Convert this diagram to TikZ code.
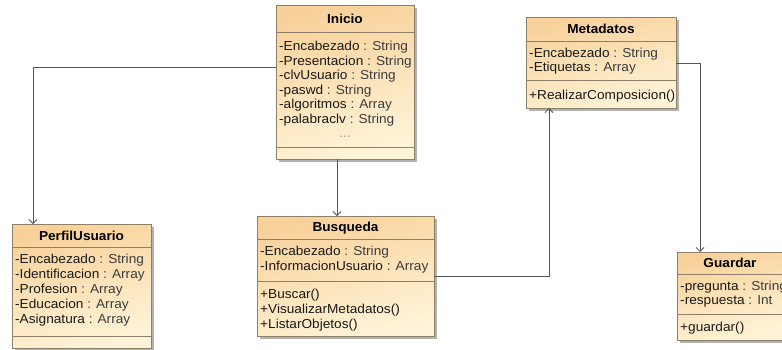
\documentclass[tikz,border=0pt]{standalone}
\usepackage{fontspec}
\setmainfont{Liberation Sans}[FakeStretch=1.05]
\usetikzlibrary{arrows.meta,shadows,calc}

\definecolor{umlborder}{HTML}{8E8068}
\definecolor{umltop}{HTML}{F8D19A}
\definecolor{umlbot}{HTML}{FFF4D8}
\definecolor{umlline}{HTML}{555555}
\definecolor{typegray}{HTML}{3C3C3C}
\definecolor{dotgray}{HTML}{9A9A9A}

\newcommand\umltype[1]{\textcolor{typegray}{#1}}

\tikzset{
  classbox/.style={draw=umlborder, line width=0.8pt, inner sep=0pt, outer sep=0pt,
    anchor=north west, top color=umltop, bottom color=umlbot, shading angle=15,
    drop shadow={shadow xshift=2.5pt, shadow yshift=-2.5pt, opacity=0.3, fill=black}},
  classtitle/.style={font=\fontsize{13}{15}\selectfont\bfseries, inner sep=0pt, anchor=base},
  member/.style={font=\fontsize{13}{15}\selectfont, inner sep=0pt, anchor=base west, text=black!90},
  ellipsis/.style={font=\fontsize{13}{15}\selectfont, inner sep=0pt, anchor=base, text=dotgray},
  sepline/.style={draw=umlborder, line width=0.8pt},
  assoc/.style={draw=umlline, line width=0.8pt, -{Straight Barb[length=4pt,width=8pt]}},
}

\begin{document}
\begin{tikzpicture}[x=1pt, y=-1pt]
\useasboundingbox (0,0) rectangle (782,349);
\clip (0,0) rectangle (782,349);
\fill[white] (0,0) rectangle (782,349);

% ---------- Inicio ----------
\node[classbox, minimum width=138pt, minimum height=154pt] (inicio) at (276,5) {};
\begin{scope}
  \clip (inicio.north west) rectangle (inicio.south east);
  \node[classtitle] (inicio-t) at (345,23) {Inicio};
  \node[member] (ini-1) at (279,50.5) {-Encabezado \umltype{: String}};
  \node[member] (ini-2) at (279,65) {-Presentacion \umltype{: String}};
  \node[member] (ini-3) at (279,79.5) {-clvUsuario \umltype{: String}};
  \node[member] (ini-4) at (279,94) {-paswd \umltype{: String}};
  \node[member] (ini-5) at (279,108.5) {-algoritmos \umltype{: Array}};
  \node[member] (ini-6) at (279,123) {-palabraclv \umltype{: String}};
  \node[ellipsis] (ini-7) at (345,137) {...};
\end{scope}
\draw[sepline] ([yshift=-27pt]inicio.north west) -- ([yshift=-27pt]inicio.north east);
\draw[sepline] ([yshift=12pt]inicio.south west) -- ([yshift=12pt]inicio.south east);

% ---------- Metadatos ----------
\node[classbox, minimum width=150pt, minimum height=91pt] (meta) at (526,17) {};
\begin{scope}
  \clip (meta.north west) rectangle (meta.south east);
  \node[classtitle] (meta-t) at (601,33) {Metadatos};
  \node[member] (meta-1) at (529,57) {-Encabezado \umltype{: String}};
  \node[member] (meta-2) at (529,71.5) {-Etiquetas \umltype{: Array}};
  \node[member] (meta-3) at (529,99) {+RealizarComposicion()};
\end{scope}
\draw[sepline] ([yshift=-24pt]meta.north west) -- ([yshift=-24pt]meta.north east);
\draw[sepline] ([yshift=28pt]meta.south west) -- ([yshift=28pt]meta.south east);

% ---------- PerfilUsuario ----------
\node[classbox, minimum width=139pt, minimum height=124pt] (perfil) at (12,224) {};
\begin{scope}
  \clip (perfil.north west) rectangle (perfil.south east);
  \node[classtitle] (perfil-t) at (81.5,240.5) {PerfilUsuario};
  \node[member] (perfil-1) at (15,263.5) {-Encabezado \umltype{: String}};
  \node[member] (perfil-2) at (15,278.5) {-Identificacion \umltype{: Array}};
  \node[member] (perfil-3) at (15,293.5) {-Profesion \umltype{: Array}};
  \node[member] (perfil-4) at (15,308.5) {-Educacion \umltype{: Array}};
  \node[member] (perfil-5) at (15,323.5) {-Asignatura \umltype{: Array}};
\end{scope}
\draw[sepline] ([yshift=-23pt]perfil.north west) -- ([yshift=-23pt]perfil.north east);
\draw[sepline] ([yshift=12pt]perfil.south west) -- ([yshift=12pt]perfil.south east);

% ---------- Busqueda ----------
\node[classbox, minimum width=177pt, minimum height=120pt] (busq) at (257,216) {};
\begin{scope}
  \clip (busq.north west) rectangle (busq.south east);
  \node[classtitle] (busq-t) at (345.5,231.5) {Busqueda};
  \node[member] (busq-1) at (260,255) {-Encabezado \umltype{: String}};
  \node[member] (busq-2) at (260,270.5) {-InformacionUsuario \umltype{: Array}};
  \node[member] (busq-3) at (260,298.5) {+Buscar()};
  \node[member] (busq-4) at (260,313.5) {+VisualizarMetadatos()};
  \node[member] (busq-5) at (260,328.5) {+ListarObjetos()};
\end{scope}
\draw[sepline] ([yshift=-23pt]busq.north west) -- ([yshift=-23pt]busq.north east);
\draw[sepline] ([yshift=55pt]busq.south west) -- ([yshift=55pt]busq.south east);

% ---------- Guardar ----------
\node[classbox, minimum width=106pt, minimum height=88pt] (guardar) at (677,252) {};
\begin{scope}
  \clip (guardar.north west) rectangle (guardar.south east);
  \node[classtitle] (guardar-t) at (730,267.5) {Guardar};
  \node[member] (guardar-1) at (680,290) {-pregunta \umltype{: String}};
  \node[member] (guardar-2) at (680,304.5) {-respuesta \umltype{: Int}};
  \node[member] (guardar-3) at (680,331.5) {+guardar()};
\end{scope}
\draw[sepline] ([yshift=-22pt]guardar.north west) -- ([yshift=-22pt]guardar.north east);
\draw[sepline] ([yshift=26pt]guardar.south west) -- ([yshift=26pt]guardar.south east);

% ---------- associations ----------
\draw[assoc] ([yshift=-62pt]inicio.north west) -| ([xshift=21pt]perfil.north west);
\draw[assoc] ([xshift=-8pt]inicio.south) -- ([xshift=-8pt]inicio.south |- busq.north);
\draw[assoc] ([yshift=-60pt]busq.north east) -| ([xshift=23pt]meta.south west);
\draw[assoc] ([yshift=-46pt]meta.north east) -| ([xshift=23pt]guardar.north west);
\end{tikzpicture}
\end{document}
